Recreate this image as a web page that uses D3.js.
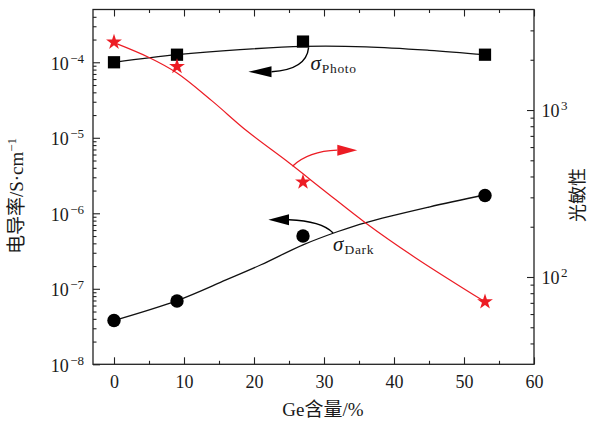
<!DOCTYPE html>
<html>
<head>
<meta charset="utf-8">
<script src="https://cdn.jsdelivr.net/npm/d3@7"></script>
<style>
  body { margin: 0; background: #fff; }
</style>
</head>
<body>
<div id="chart"></div>
<script>
// measured points
const geContent = [0, 9, 27, 53];
const sigmaPhoto = [1.0e-4, 1.26e-4, 1.88e-4, 1.26e-4];
const sigmaDark = [3.8e-8, 6.9e-8, 5.0e-7, 1.72e-6];
const photoSensitivity = [2550, 1820, 370, 71];

// fitted curves
const photoFitX = [0, 9, 18, 27, 36, 45, 53];
const photoFitY = [1.0e-4, 1.26e-4, 1.47e-4, 1.62e-4, 1.6e-4, 1.44e-4, 1.26e-4];
const darkFitX = [0, 9, 16, 21, 27, 32, 36, 45, 53];
const darkFitY = [3.8e-8, 6.97e-8, 1.31e-7, 2.08e-7, 3.82e-7, 5.74e-7, 7.55e-7, 1.21e-6, 1.76e-6];
const sensFitX = [0, 5, 9, 14, 19, 25, 30, 36, 43, 53];
const sensFitY = [2534, 2065, 1667, 1134, 748, 483, 330, 210, 131, 71];

const xTicks = [0, 10, 20, 30, 40, 50, 60];
const xMinorTicks = [5, 15, 25, 35, 45, 55];
const leftMajor = [1e-8, 1e-7, 1e-6, 1e-5, 1e-4];
const leftExp = ["\u22128", "\u22127", "\u22126", "\u22125", "\u22124"];
const rightMajor = [100, 1000];
const rightExp = ["2", "3"];

const width = 592, height = 421;
const margin = { top: 9.5, right: 58, bottom: 56.7, left: 93 };
const red = "#ec1c24";
const serif = "'Liberation Serif', 'Times New Roman', 'DejaVu Serif', 'Noto Sans CJK SC', serif";

const svg = d3.select("#chart").append("svg")
  .attr("width", width)
  .attr("height", height)
  .attr("font-family", serif);

const x = d3.scaleLinear().domain([-3, 60]).range([margin.left, width - margin.right]);
const yL = d3.scaleLog().domain([1e-8, 5e-4]).range([height - margin.bottom, margin.top]);
const yR = d3.scaleLog().domain([30, 4000]).range([height - margin.bottom, margin.top]);

function minors(scale, from, to) {
  let out = [];
  for (let e = from; e <= to; e++) {
    for (let m = 2; m <= 9; m++) {
      let v = m * Math.pow(10, e);
      let d = scale.domain();
      if (v > d[0] && v < d[1]) out.push(v);
    }
  }
  return out;
}

const bottomY = height - margin.bottom;
const rightX = width - margin.right;

// axes (ticks point inward)
function addAxis(axis, tx, ty) {
  let g = svg.append("g").attr("transform", `translate(${tx},${ty})`).call(axis);
  g.attr("font-family", serif);
  g.select(".domain").remove();
  g.selectAll("line").attr("stroke", "#222").attr("stroke-width", 1.1);
  return g;
}

let xAxis = addAxis(d3.axisBottom(x).tickValues(xTicks).tickSize(-7).tickPadding(11), 0, bottomY);
xAxis.selectAll("text").attr("font-size", 18).attr("font-family", serif).attr("fill", "#1a1a1a");
addAxis(d3.axisBottom(x).tickValues(xMinorTicks).tickSize(-3.5).tickFormat(""), 0, bottomY);
addAxis(d3.axisTop(x).tickValues(xTicks).tickSize(-7).tickFormat(""), 0, margin.top);
addAxis(d3.axisTop(x).tickValues(xMinorTicks).tickSize(-3.5).tickFormat(""), 0, margin.top);

addAxis(d3.axisLeft(yL).tickValues(leftMajor).tickSize(-7).tickFormat(""), margin.left, 0);
addAxis(d3.axisLeft(yL).tickValues(minors(yL, -8, -4)).tickSize(-3.5).tickFormat(""), margin.left, 0);
addAxis(d3.axisRight(yR).tickValues(rightMajor).tickSize(-7).tickFormat(""), rightX, 0);
addAxis(d3.axisRight(yR).tickValues(minors(yR, 1, 3)).tickSize(-3.5).tickFormat(""), rightX, 0);

// power-of-ten labels
function powLabel(px, py, anchor, exp) {
  let t = svg.append("text")
    .attr("x", px).attr("y", py)
    .attr("text-anchor", anchor)
    .attr("font-family", serif)
    .attr("fill", "#1a1a1a")
    .attr("font-size", 18);
  t.append("tspan").text("10");
  t.append("tspan").attr("dx", 1.5).attr("dy", -7).attr("font-size", 13).text(exp);
}
leftMajor.forEach((v, i) => powLabel(84, yL(v) + 7.3, "end", leftExp[i]));
rightMajor.forEach((v, i) => powLabel(541.5, yR(v) + 7.3, "start", rightExp[i]));

// frame
svg.append("rect")
  .attr("x", margin.left).attr("y", margin.top)
  .attr("width", rightX - margin.left).attr("height", bottomY - margin.top)
  .attr("fill", "none").attr("stroke", "#222").attr("stroke-width", 1.3);

// axis titles
svg.append("text")
  .attr("x", 323).attr("y", 416)
  .attr("text-anchor", "middle").attr("font-size", 19)
  .attr("fill", "#1a1a1a")
  .text("Ge含量/%");

let yt = svg.append("text")
  .attr("transform", "translate(23,196) rotate(-90)")
  .attr("text-anchor", "middle").attr("font-size", 19)
  .attr("fill", "#1a1a1a");
yt.append("tspan").text("电导率/S·cm");
yt.append("tspan").attr("dy", -7).attr("font-size", 13).text("\u22121");

svg.append("text")
  .attr("transform", "translate(584,195) rotate(-90)")
  .attr("text-anchor", "middle").attr("font-size", 18)
  .attr("fill", "#1a1a1a")
  .text("光敏性");

// fitted curves
const fitLine = (sx, sy) => d3.line().x((d) => x(d[0])).y((d) => sy(d[1])).curve(d3.curveCatmullRom);

svg.append("path")
  .datum(photoFitX.map((v, i) => [v, photoFitY[i]]))
  .attr("d", fitLine(x, yL))
  .attr("fill", "none").attr("stroke", "#111").attr("stroke-width", 1.3);

svg.append("path")
  .datum(darkFitX.map((v, i) => [v, darkFitY[i]]))
  .attr("d", fitLine(x, yL))
  .attr("fill", "none").attr("stroke", "#111").attr("stroke-width", 1.3);

svg.append("path")
  .datum(sensFitX.map((v, i) => [v, sensFitY[i]]))
  .attr("d", fitLine(x, yR))
  .attr("fill", "none").attr("stroke", red).attr("stroke-width", 1.2);

// markers
svg.append("g").selectAll("path")
  .data(geContent.map((v, i) => [v, sigmaPhoto[i]]))
  .join("path")
  .attr("transform", (d) => `translate(${x(d[0])},${yL(d[1])})`)
  .attr("d", d3.symbol(d3.symbolSquare, 150))
  .attr("fill", "#000");

svg.append("g").selectAll("circle")
  .data(geContent.map((v, i) => [v, sigmaDark[i]]))
  .join("circle")
  .attr("cx", (d) => x(d[0]))
  .attr("cy", (d) => yL(d[1]))
  .attr("r", 6.7)
  .attr("fill", "#000");

svg.append("g").selectAll("path")
  .data(geContent.map((v, i) => [v, photoSensitivity[i]]))
  .join("path")
  .attr("transform", (d) => `translate(${x(d[0])},${yR(d[1])})`)
  .attr("d", d3.symbol(d3.symbolStar, 78))
  .attr("fill", red);

// annotation arrows: start, control, head base, tip
function arrow(pts, color) {
  let [s, c, b, t] = pts;
  svg.append("path")
    .attr("d", `M${s[0]},${s[1]}Q${c[0]},${c[1]} ${b[0]},${b[1]}`)
    .attr("fill", "none").attr("stroke", color).attr("stroke-width", 1.4);
  let ang = Math.atan2(t[1] - b[1], t[0] - b[0]);
  let nx = -Math.sin(ang) * 5.5, ny = Math.cos(ang) * 5.5;
  svg.append("path")
    .attr("d", `M${t[0]},${t[1]}L${b[0] + nx},${b[1] + ny}L${b[0] - nx},${b[1] - ny}Z`)
    .attr("fill", color);
}

arrow([[x(27.8), yL(1.57e-4)], [x(27.5), yL(8.0e-5)], [x(22.5), yL(7.5e-5)], [x(19.2), yL(7.5e-5)]], "#000");
arrow([[x(25.5), yR(461)], [x(27.8), yR(568)], [x(31.9), yR(575)], [x(34.75), yR(575)]], red);
arrow([[x(31.3), yL(5.5e-7)], [x(29.6), yL(7.9e-7)], [x(25.0), yL(8.2e-7)], [x(22.05), yL(8.2e-7)]], "#000");

// sigma labels
function sigmaLabel(px, py, sub) {
  let t = svg.append("text").attr("x", px).attr("y", py).attr("fill", "#1a1a1a");
  t.append("tspan").attr("font-style", "italic").attr("font-size", 21).text("σ");
  t.append("tspan").attr("dx", 1).attr("dy", 3).attr("font-size", 13.5).attr("letter-spacing", 0.7).text(sub);
}
sigmaLabel(x(28.06), yL(7.9e-5), "Photo");
sigmaLabel(x(31.3), yL(3.2e-7), "Dark");
</script>
</body>
</html>
